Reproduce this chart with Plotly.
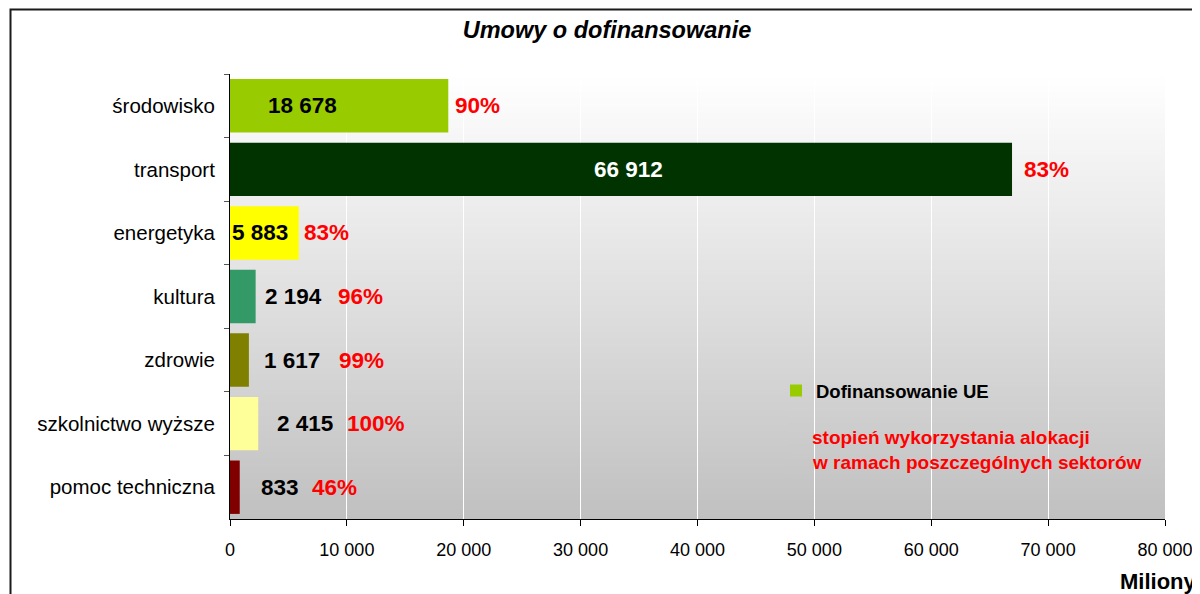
import plotly.graph_objects as go

# ---- data ----
categories = ["środowisko", "transport", "energetyka", "kultura", "zdrowie",
              "szkolnictwo wyższe", "pomoc techniczna"]
values = [18678, 66912, 5883, 2194, 1617, 2415, 833]
percent_labels = ["90%", "83%", "83%", "96%", "99%", "100%", "46%"]
series_name = "Dofinansowanie UE"
note_lines = ["stopień wykorzystania alokacji", "w ramach poszczególnych sektorów"]
x_ticks = [0, 10000, 20000, 30000, 40000, 50000, 60000, 70000, 80000]

# ---- style ----
bar_colors = ["#99CC00", "#003300", "#FFFF00", "#339966", "#808000", "#FFFF99", "#800000"]
value_label_colors = ["black", "white", "black", "black", "black", "black", "black"]
value_label_shift = [38, 364, 2, 35, 34, 47, 31]      # px from axis origin
pct_label_shift = [7, 12, 5, 82, 90, 89, 72]           # px from bar end
FONT = "Arial, Liberation Sans, sans-serif"
W, H = 1200, 594
OFF = 8   # page body margin: figure is drawn 8px right/down in the window


def px(x):
    return (x - OFF) / W


def py(y):
    return 1 - (y - OFF) / H


PL, PR, PT, PB = 230, 1165, 74, 519   # plot area in window pixels


def fmt(v):
    return f"{v:,}".replace(",", " ")


def grad(ypx):
    t = min(max((ypx - PT) / (PB - PT), 0), 1)
    c = round(255 - t * (255 - 192))
    return f"rgb({c},{c},{c})"


fig = go.Figure()
fig.add_trace(go.Bar(
    y=categories, x=values, orientation="h", name=series_name,
    marker=dict(color=bar_colors, line=dict(width=0)),
    showlegend=True, hoverinfo="x+y",
))

shapes = []
# gradient plot background (below gridlines)
step = 3
y = PT
while y < PB:
    y2 = min(y + step, PB)
    shapes.append(dict(type="rect", xref="paper", yref="paper",
                       x0=px(PL), x1=px(PR), y0=py(y2), y1=py(y),
                       fillcolor=grad((y + y2) / 2), line=dict(width=0), layer="below"))
    y = y2
# legend box background (covers gridlines, below traces)
LX0, LX1, LY0, LY1 = 788, 1162, 378, 476
y = LY0
while y < LY1:
    y2 = min(y + step, LY1)
    shapes.append(dict(type="rect", xref="paper", yref="paper",
                       x0=px(LX0), x1=px(LX1), y0=py(y2), y1=py(y),
                       fillcolor=grad((y + y2) / 2), line=dict(width=0), layer="between"))
    y = y2
# outer chart frame
shapes.append(dict(type="rect", xref="paper", yref="paper",
                   x0=px(10.5), x1=1.02, y0=-0.02, y1=py(9.5),
                   line=dict(color="#1a1a1a", width=2), fillcolor="rgba(0,0,0,0)", layer="above"))

annotations = []
for cat, v, col, vs, ps, pct in zip(categories, values, value_label_colors,
                                     value_label_shift, pct_label_shift, percent_labels):
    annotations.append(dict(x=0, y=cat, xref="x", yref="y", xanchor="left", yanchor="middle",
                            xshift=vs - 2, text=f"<b>{fmt(v)}</b>", showarrow=False,
                            font=dict(family=FONT, size=22.5, color=col)))
    annotations.append(dict(x=v, y=cat, xref="x", yref="y", xanchor="left", yanchor="middle",
                            xshift=ps - 2, text=f"<b>{pct}</b>", showarrow=False,
                            font=dict(family=FONT, size=22.5, color="#FF0000")))
for i, line in enumerate(note_lines):
    annotations.append(dict(x=px(810), y=py(437 + 25 * i), xref="paper", yref="paper",
                            xanchor="left", yanchor="middle", text=f"<b>{line}</b>",
                            showarrow=False, font=dict(family=FONT, size=19, color="#FF0000")))
annotations.append(dict(x=px(1199), y=py(581), xref="paper", yref="paper",
                        xanchor="right", yanchor="middle", text="<b>Miliony</b>",
                        showarrow=False, font=dict(family=FONT, size=22, color="black")))

fig.update_layout(
    width=W, height=H,
    margin=dict(l=0, r=0, t=0, b=0, pad=0, autoexpand=False),
    paper_bgcolor="white", plot_bgcolor="rgba(0,0,0,0)",
    separators=", ",
    font=dict(family=FONT, color="black"),
    title=dict(text="<b><i>Umowy o dofinansowanie</i></b>", x=px(607), xanchor="center",
               y=py(30), yanchor="middle", font=dict(family=FONT, size=23.5, color="black")),
    bargap=0.16,
    shapes=shapes,
    annotations=annotations,
    showlegend=True,
    legend=dict(x=px(776), y=py(391), xanchor="left", yanchor="middle",
                bgcolor="rgba(0,0,0,0)", borderwidth=0,
                font=dict(family=FONT, size=18.5, color="black", weight="bold"),
                itemwidth=30, tracegroupgap=0),
    xaxis=dict(domain=[px(PL), px(PR)], range=[0, 80000], tickvals=x_ticks,
               tickformat=",d", showgrid=True, gridcolor="white", gridwidth=1,
               zeroline=False, showline=True, linecolor="black", linewidth=1,
               ticks="outside", ticklen=6, tickcolor="black", automargin=False,
               tickfont=dict(family=FONT, size=18, color="black"),
               ticklabelstandoff=8, fixedrange=True),
    yaxis=dict(domain=[py(PB), py(PT)], type="category",
               categoryorder="array", categoryarray=categories, autorange="reversed",
               showgrid=False, zeroline=False, showline=True, linecolor="black", linewidth=1,
               ticks="outside", ticklen=5, tickcolor="#555555", tickson="boundaries",
               automargin=False,
               tickfont=dict(family=FONT, size=20.5, color="black"),
               ticklabelstandoff=10, fixedrange=True),
)

fig.write_html("out.html")
